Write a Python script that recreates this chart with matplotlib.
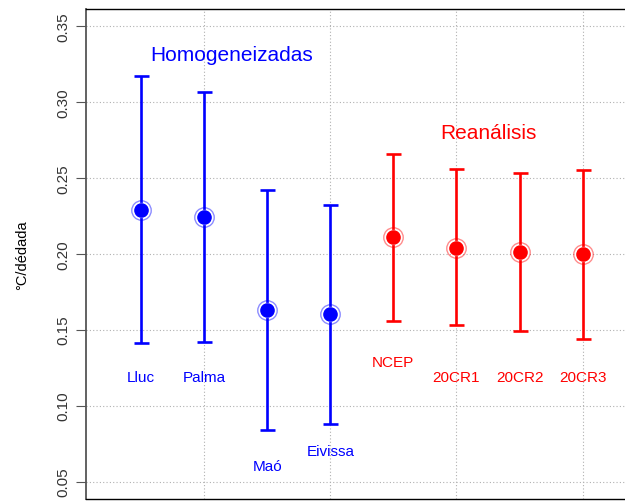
import matplotlib
matplotlib.use('Agg')
import matplotlib.pyplot as plt

# trend estimates (°C/decade) with confidence limits
names = ['Lluc', 'Palma', 'Maó', 'Eivissa', 'NCEP', '20CR1', '20CR2', '20CR3']
trend = [0.229, 0.224, 0.163, 0.160, 0.211, 0.204, 0.201, 0.200]
upper = [0.317, 0.3065, 0.242, 0.232, 0.266, 0.256, 0.253, 0.255]
lower = [0.141, 0.142, 0.084, 0.088, 0.156, 0.153, 0.149, 0.144]
label_y = [0.119, 0.119, 0.060, 0.070, 0.129, 0.119, 0.119, 0.119]
colors = ['#0000ff'] * 4 + ['#ff0000'] * 4

plt.rcParams['font.family'] = ['Liberation Sans', 'DejaVu Sans']

fig = plt.figure(figsize=(6.25, 5.02), dpi=100)
ax = fig.add_axes([86 / 625, 2 / 502, 1 - 86 / 625, 1 - 11.5 / 502])

xs = list(range(1, len(names) + 1))
for x, t, hi, lo, c, nm, ly in zip(xs, trend, upper, lower, colors, names, label_y):
    ax.errorbar([x], [t], yerr=[[t - lo], [hi - t]], fmt='none', ecolor=c,
                elinewidth=1.9, capsize=5.4, capthick=1.9, zorder=3)
    ax.plot(x, t, 'o', ms=14, mfc='none', mec=c, mew=1.0, alpha=0.45, zorder=4)
    ax.plot(x, t, 'o', ms=11, mfc='white', mec='none', zorder=4)
    ax.plot(x, t, 'o', ms=9.5, color=c, zorder=5)
    ax.text(x, ly, nm, color=c, fontsize=11, ha='center', va='center')

ax.text(2.44, 0.3315, 'Homogeneizadas', color='#0000ff', fontsize=15, ha='center', va='center')
ax.text(6.51, 0.280, 'Reanálisis', color='#ff0000', fontsize=15, ha='center', va='center')

ax.set_xlim(0.13, 8.67)
ax.set_ylim(0.0385, 0.3615)
ax.set_yticks([0.05, 0.10, 0.15, 0.20, 0.25, 0.30, 0.35])
ax.set_yticklabels(['0.05', '0.10', '0.15', '0.20', '0.25', '0.30', '0.35'],
                   rotation=90, va='center', fontsize=11, color='#333333')
ax.set_xticks([])
ax.tick_params(axis='y', length=7, width=0.8, pad=4, color='#555555')
ax.set_ylabel('°C/dédada', fontsize=10.5, labelpad=20)

for gx in [2, 4, 6, 8]:
    ax.axvline(gx, color='#b0b0b0', lw=0.8, ls=(0, (1, 2)), zorder=1)
for gy in [0.05, 0.10, 0.15, 0.20, 0.25, 0.30, 0.35]:
    ax.axhline(gy, color='#b0b0b0', lw=0.8, ls=(0, (1, 2)), zorder=1)

ax.spines['right'].set_visible(False)
ax.spines['left'].set_color('#555555')
ax.spines['left'].set_linewidth(1.3)
for s in ['top', 'bottom']:
    ax.spines[s].set_linewidth(1.0)

fig.savefig('out.png', dpi=100)
